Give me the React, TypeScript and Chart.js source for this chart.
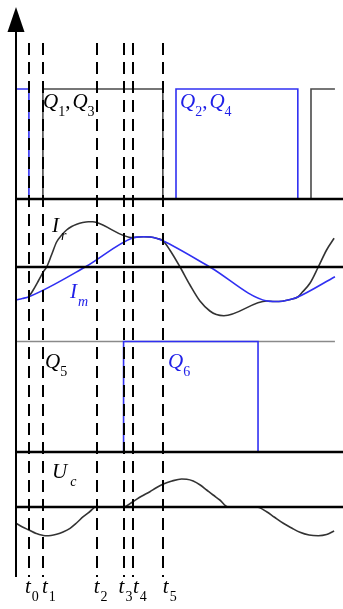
import { useEffect, useRef } from "react";
import { Chart, registerables } from "chart.js";

Chart.register(...registerables);

// Time base: one switching period = 100 units.
const EVENT_TIMES = [4.8, 10, 30, 40, 43.5, 54.6];
const EVENT_SUBS = ["0", "1", "2", "3", "4", "5"];

// Primary-side gate drives (0 = off, 1 = on)
const Q13_T = [10, 10, 54.6, 54.6, 109.7, 109.7, 118.6];
const Q13_V = [0, 1, 1, 0, 0, 1, 1];
const Q24_T = [0, 4.8, 4.8, 59.5, 59.5, 104.8, 104.8];
const Q24_V = [1, 1, 0, 0, 1, 1, 0];

// Resonant current Ir and magnetizing current Im
const IM_T = [0, 2.4, 4.8, 25.7, 43.5, 45.5, 47.5, 50, 52.5, 54.6, 72.1, 93.3, 96, 99, 102, 104.8, 118.6];
const IM_V = [-3.3, -3.15, -2.97, 0, 2.93, 3.0, 3.02, 3.0, 2.85, 2.63, 0, -3.4, -3.45, -3.42, -3.25, -3.0, -0.97];
const IR_T = [
  4.8, 6.4, 8.3, 10.2, 11.4, 13.2, 15.1, 17, 18.8, 20.7, 22.6, 24.8, 26.9, 28.5, 30,
  43.5, 45.5, 47.5, 50, 52.5, 54.6, 57.2, 61, 64.7, 68.4, 72.1, 74.5, 77.3,
  93.3, 96, 99, 102, 104.8, 106.5, 109.3, 112.4, 115.5, 118.3,
];
const IR_V = [
  -2.97, -2.3, -1.4, -0.47, 0, 1.2, 2.5, 3.2, 3.7, 4.05, 4.28, 4.45, 4.53, 4.52, 4.45,
  2.93, 3.0, 3.02, 3.0, 2.85, 2.63, 1.7, 0, -1.8, -3.4, -4.4, -4.75, -4.87,
  -3.4, -3.45, -3.42, -3.25, -3.0, -2.5, -1.63, 0, 1.7, 2.87,
];

// Secondary-side gate drives
const Q5_T = [0, 118.6];
const Q5_V = [1, 1];
const Q6_T = [40, 40, 90, 90];
const Q6_V = [0, 1, 1, 0];

// Resonant capacitor voltage Uc
const UC_T = [
  0, 2.4, 4.8, 7.5, 10.8, 13, 15.1, 17.5, 20.1, 22.5, 25, 27.5, 29.7, 40, 43.5, 46.5, 49.8, 52,
  54.6, 58, 61.6, 63.5, 65.9, 68.5, 70.9, 73.3, 75.8, 78.9, 89.5, 93.2, 96, 99.4, 102.5, 105.6,
  109, 112.4, 115.5, 118.3,
];
const UC_V = [
  -1.63, -2.0, -2.3, -2.65, -2.87, -2.85, -2.73, -2.5, -2.13, -1.6, -0.97, -0.45, 0, 0, 0.53,
  1.05, 1.53, 1.9, 2.27, 2.6, 2.8, 2.78, 2.6, 2.2, 1.7, 1.2, 0.7, 0, 0, -0.47, -1.0, -1.63,
  -2.1, -2.53, -2.8, -2.87, -2.75, -2.4,
];

const BLUE = "#3030f2";
const BLUE_TEXT = "#2020e8";
const SERIF = '"Liberation Serif", "DejaVu Serif", serif';

const AREA_TOP = 7;
const AREA_BOTTOM = 577;

// y-range giving a panel whose zero sits at zeroPx with pxPerUnit scaling
function band(zeroPx: number, pxPerUnit: number) {
  return {
    min: -(AREA_BOTTOM - zeroPx) / pxPerUnit,
    max: (zeroPx - AREA_TOP) / pxPerUnit,
  };
}

function pts(ts: number[], vs: number[]) {
  return ts.map((t, i) => ({ x: t, y: vs[i] }));
}

type Piece = { text: string; sub?: boolean; italic?: boolean; gap?: number };

function drawLabel(ctx: CanvasRenderingContext2D, pieces: Piece[], x: number, y: number, color: string) {
  ctx.fillStyle = color;
  ctx.textBaseline = "alphabetic";
  ctx.textAlign = "left";
  let cx = x;
  for (const p of pieces) {
    cx += p.gap ?? 0;
    if (p.sub) {
      ctx.font = `${p.italic ? "italic " : ""}14px ${SERIF}`;
      ctx.fillText(p.text, cx, y + 8);
    } else {
      ctx.font = `${p.italic === false ? "" : "italic "}21px ${SERIF}`;
      ctx.fillText(p.text, cx, y);
    }
    cx += ctx.measureText(p.text).width;
  }
}

const decorations = {
  id: "decorations",
  afterDatasetsDraw(chart: any) {
    const { ctx, chartArea, scales } = chart;
    const xs = scales.x;
    const left = chartArea.left;
    const bottom = chartArea.bottom;
    ctx.save();

    // panel baselines / zero lines
    ctx.strokeStyle = "#000";
    ctx.lineWidth = 2.6;
    for (const id of ["yG", "yI", "yQ", "yU"]) {
      const py = Math.round(scales[id].getPixelForValue(0));
      ctx.beginPath();
      ctx.moveTo(left, py);
      ctx.lineTo(chart.width, py);
      ctx.stroke();
    }

    // vertical axis with arrow head
    ctx.lineWidth = 2;
    ctx.beginPath();
    ctx.moveTo(left, 28);
    ctx.lineTo(left, bottom);
    ctx.stroke();
    ctx.fillStyle = "#000";
    ctx.beginPath();
    ctx.moveTo(left, 7);
    ctx.lineTo(left - 8.5, 32);
    ctx.lineTo(left + 8.5, 32);
    ctx.closePath();
    ctx.fill();

    // switching instants
    ctx.setLineDash([12, 7]);
    ctx.lineWidth = 2;
    for (const t of EVENT_TIMES) {
      const px = Math.round(xs.getPixelForValue(t));
      ctx.beginPath();
      ctx.moveTo(px, 43);
      ctx.lineTo(px, bottom);
      ctx.stroke();
    }
    ctx.setLineDash([]);

    // instant labels t0..t5
    const nudge = [-4, -1, -3, -5, 0, 0];
    EVENT_TIMES.forEach((t, i) => {
      const px = xs.getPixelForValue(t) + nudge[i];
      drawLabel(ctx, [{ text: "t" }, { text: EVENT_SUBS[i], sub: true, gap: 1 }], px, 593, "#000");
    });

    // signal names
    drawLabel(
      ctx,
      [{ text: "Q" }, { text: "1", sub: true }, { text: ",", italic: false }, { text: "Q", gap: 2 }, { text: "3", sub: true }],
      43, 108, "#000"
    );
    drawLabel(
      ctx,
      [{ text: "Q" }, { text: "2", sub: true }, { text: ",", italic: false }, { text: "Q", gap: 2 }, { text: "4", sub: true }],
      180, 108, BLUE_TEXT
    );
    drawLabel(ctx, [{ text: "I" }, { text: "r", sub: true, italic: true, gap: 2 }], 52, 232, "#000");
    drawLabel(ctx, [{ text: "I" }, { text: "m", sub: true, italic: true, gap: 1 }], 70, 298, BLUE_TEXT);
    drawLabel(ctx, [{ text: "Q" }, { text: "5", sub: true }], 45, 368, "#000");
    drawLabel(ctx, [{ text: "Q" }, { text: "6", sub: true }], 168, 368, BLUE_TEXT);
    drawLabel(ctx, [{ text: "U" }, { text: "c", sub: true, italic: true, gap: 3 }], 52, 478, "#000");

    ctx.restore();
  },
};

export default function App() {
  const canvasRef = useRef<HTMLCanvasElement | null>(null);

  useEffect(() => {
    document.body.style.margin = "0";
    const canvas = canvasRef.current;
    if (!canvas) return;

    const lineBase = { pointRadius: 0, borderWidth: 1.6, clip: false as any, xAxisID: "x" };

    const chart = new Chart(canvas, {
      type: "line",
      data: {
        datasets: [
          { ...lineBase, label: "Q2,Q4", data: pts(Q24_T, Q24_V), borderColor: BLUE, yAxisID: "yG", tension: 0 },
          { ...lineBase, label: "Q1,Q3", data: pts(Q13_T, Q13_V), borderColor: "#4a4a4a", yAxisID: "yG", tension: 0 },
          { ...lineBase, label: "Im", data: pts(IM_T, IM_V), borderColor: BLUE, yAxisID: "yI", cubicInterpolationMode: "monotone" },
          { ...lineBase, label: "Ir", data: pts(IR_T, IR_V), borderColor: "#333333", yAxisID: "yI", cubicInterpolationMode: "monotone" },
          { ...lineBase, label: "Q6", data: pts(Q6_T, Q6_V), borderColor: BLUE, yAxisID: "yQ", tension: 0 },
          { ...lineBase, label: "Q5", data: pts(Q5_T, Q5_V), borderColor: "#8a8a8a", yAxisID: "yQ", tension: 0 },
          { ...lineBase, label: "Uc", data: pts(UC_T, UC_V), borderColor: "#333333", yAxisID: "yU", cubicInterpolationMode: "monotone" },
        ] as any,
      },
      options: {
        responsive: false,
        animation: false,
        layout: { padding: { left: 16, top: AREA_TOP, right: 0, bottom: 609 - AREA_BOTTOM } },
        plugins: { legend: { display: false }, tooltip: { enabled: false } },
        scales: {
          x: { type: "linear", min: 0, max: 121.6, display: false },
          yG: { type: "linear", display: false, ...band(199, 110) },
          yI: { type: "linear", display: false, ...band(267, 10) },
          yQ: { type: "linear", display: false, ...band(452, 110.5) },
          yU: { type: "linear", display: false, ...band(507, 10) },
        },
      },
      plugins: [decorations],
    });

    return () => chart.destroy();
  }, []);

  return (
    <div style={{ width: 343, height: 609, background: "#fff" }}>
      <canvas ref={canvasRef} width={343} height={609} style={{ display: "block" }} />
    </div>
  );
}
